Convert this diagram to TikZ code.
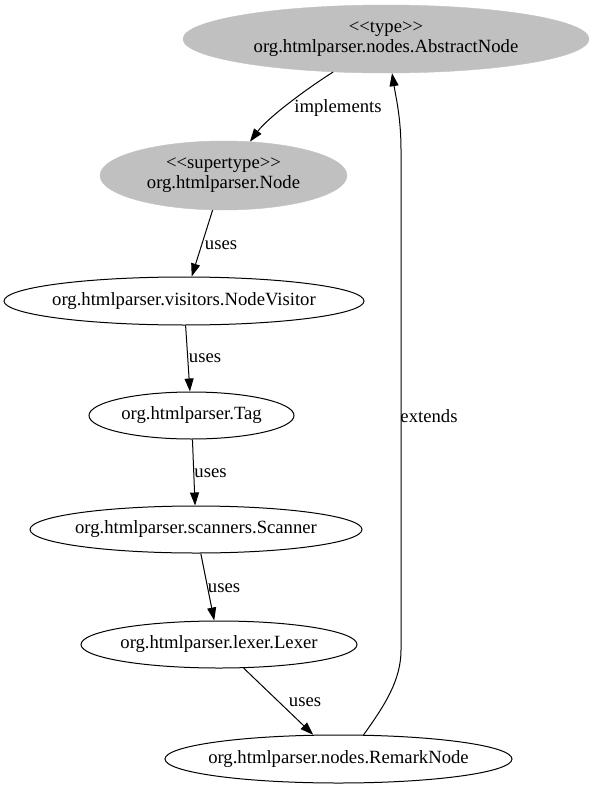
\documentclass[tikz,border=0pt]{standalone}
\usepackage{fontspec}
\setmainfont{Liberation Serif}
\usepackage{tikz}
\usetikzlibrary{shapes.geometric, arrows.meta}
\definecolor{typegray}{HTML}{C0C0C0}
% zero-width text, so the ellipse keeps its given size
\newcommand{\lbox}[1]{\makebox[0pt]{#1}}
\tikzset{type node/.style={ellipse,fill=typegray,draw=typegray,inner sep=0pt,align=center},
         class node/.style={ellipse,draw,line width=1pt,inner sep=0pt},
         edge label/.style={inner sep=0pt},
         dep/.style={line width=1pt,-{Triangle[length=13pt,width=9pt]}}}

\begin{document}
\begin{tikzpicture}[x=1pt,y=-1pt,font=\fontsize{18.67}{20}\selectfont]
            \useasboundingbox (0,0) rectangle (593,789);
            \node[type node, minimum width=406, minimum height=68] (abstract) at (386,39) {\lbox{<\kern0pt<type>\kern0pt>}\\\lbox{org.htmlparser.nodes.AbstractNode}};
            \node[type node, minimum width=247, minimum height=69] (node) at (223.5,175.5) {\lbox{<\kern0pt<supertype>\kern0pt>}\\\lbox{org.htmlparser.Node}};
            \node[class node, minimum width=360, minimum height=48] (visitor) at (184,301) {\lbox{org.htmlparser.visitors.NodeVisitor}};
            \node[class node, minimum width=205, minimum height=47] (tag) at (191.5,415.5) {\lbox{org.htmlparser.Tag}};
            \node[class node, minimum width=332, minimum height=47] (scanner) at (196,529.5) {\lbox{org.htmlparser.scanners.Scanner}};
            \node[class node, minimum width=276, minimum height=47] (lexer) at (219,644.5) {\lbox{org.htmlparser.lexer.Lexer}};
            \node[class node, minimum width=347, minimum height=48] (remark) at (338.5,759) {\lbox{org.htmlparser.nodes.RemarkNode}};

            \node[edge label] (implements) at (338,108) {implements};
            \node[edge label] (uses1) at (221,245) {uses};
            \node[edge label] (uses2) at (205,358) {uses};
            \node[edge label] (uses3) at (210.5,473) {uses};
            \node[edge label] (uses4) at (224,588) {uses};
            \node[edge label] (uses5) at (305,702) {uses};
            \node[edge label] (extends) at (429,416) {extends};

            \path[dep]
            (node) edge (visitor)
            (visitor) edge (tag)
            (tag) edge (scanner)
            (scanner) edge (lexer)
            (lexer) edge (remark);

            \draw[dep] (abstract.212) .. controls +(-27,17) and +(18,-24) .. (node.52);
            \draw[dep] (remark.44) .. controls (385,705) and (401,680) .. (401,650)
                -- (401,150) .. controls (401,118) and (396,98) .. (abstract.280);
        \end{tikzpicture}
\end{document}
